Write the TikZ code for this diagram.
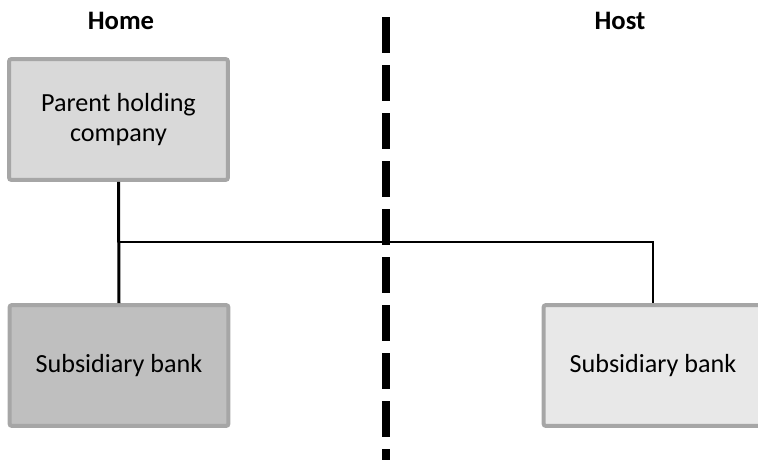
\documentclass[tikz,border=0pt]{standalone}
\usepackage{fontspec}
\setmainfont{Carlito}
\definecolor{boxedge}{HTML}{A6A6A6}
\definecolor{parentfill}{HTML}{D9D9D9}
\definecolor{homefill}{HTML}{BFBFBF}
\definecolor{hostfill}{HTML}{E8E8E8}

\begin{document}
\begin{tikzpicture}[x=0.75pt,y=-0.75pt,
        entity/.style={draw=boxedge, line width=3pt, rounded corners=1.5pt,
        fill=#1, minimum width=164pt, minimum height=90.5pt, align=center,
        font=\fontsize{19.6}{22}\selectfont},entity/.default=parentfill,
        sidetitle/.style={font=\bfseries\fontsize{20}{24}\selectfont},
        stem/.style={line width=2.25pt},
        link/.style={line width=1pt},
        border/.style={line width=6pt, dash pattern=on 27pt off 9pt}]
      \useasboundingbox (0,0) rectangle (758,462);
      \clip (0,0) rectangle (758,462);
      \node[sidetitle,name=home] at (121,21) {Home};
      \node[sidetitle,name=host] at (620,21) {Host};
      \node[entity,name=parent] at (118.5,119.5) {Parent holding\\company};
      \node[entity=homefill,name=subhome] at (119,365.5) {Subsidiary bank};
      \node[entity=hostfill,name=subhost] at (653,365.5) {Subsidiary bank};
      \coordinate (divtop) at (386,17);
      \coordinate (divbot) at (386,460);
      \coordinate (branch) at (119,242);
      \draw[link] (branch) -| (subhost.north);
      \draw[stem] (parent.south) -- (subhome.north);
      \draw[border] (divtop) -- (divbot);
    \end{tikzpicture}
\end{document}
